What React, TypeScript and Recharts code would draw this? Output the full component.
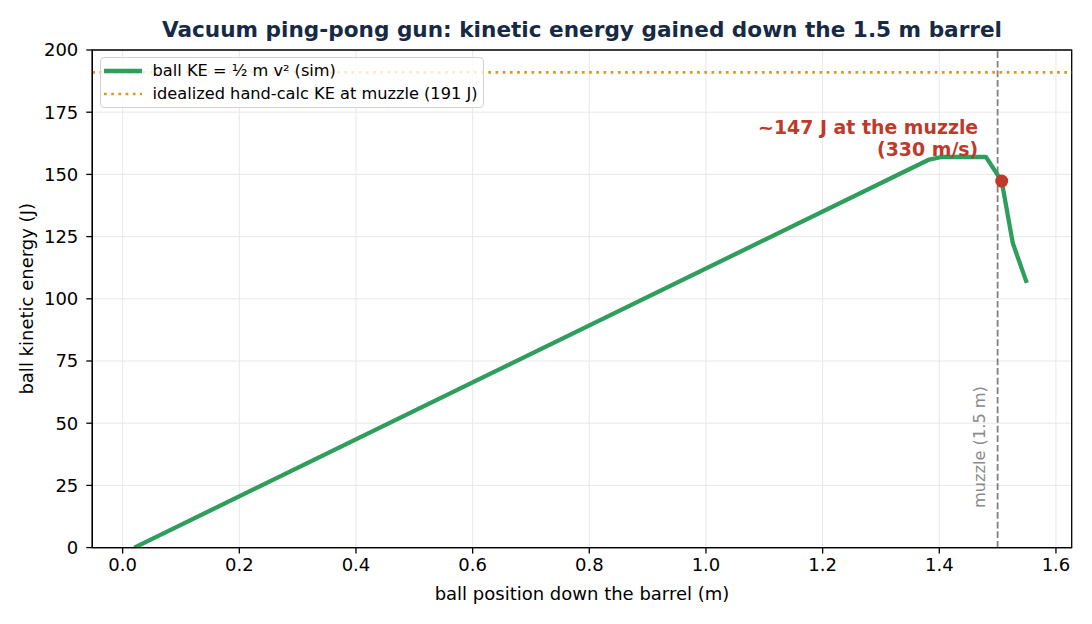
import React from "react";
import {
  LineChart,
  Line,
  XAxis,
  YAxis,
  CartesianGrid,
  ReferenceLine,
  ReferenceDot,
  ReferenceArea,
  Legend,
} from "recharts";

// ---- data ----
const positions = [0.02, 1.381, 1.404, 1.48, 1.507, 1.526, 1.55];
const kineticEnergy = [0, 155.8, 157.0, 157.0, 147.3, 122.4, 106.4];
const xTicks = [0, 0.2, 0.4, 0.6, 0.8, 1.0, 1.2, 1.4, 1.6];
const yTicks = [0, 25, 50, 75, 100, 125, 150, 175, 200];
const xDomain = [-0.052, 1.627];
const yDomain = [0, 200];
const handCalcKE = 191;
const muzzlePosition = 1.5;
const muzzlePointX = 1.507;
const muzzlePointKE = 147.3;
const annotationLines = ["~147 J at the muzzle", "(330 m/s)"];
const muzzleLabel = "muzzle (1.5 m)";
const titleText = "Vacuum ping-pong gun: kinetic energy gained down the 1.5 m barrel";
const xLabel = "ball position down the barrel (m)";
const yLabel = "ball kinetic energy (J)";
const simLegend = "ball KE = ½ m v² (sim)";
const handLegend = "idealized hand-calc KE at muzzle (191 J)";

const data = positions.map((x, i) => ({ x, ke: kineticEnergy[i] }));

const GREEN = "#2f9e5c";
const GOLD = "#d69a1e";
const RED = "#c0392b";
const GRAY = "#808080";
const FONT = "'DejaVu Sans', sans-serif";

const renderYLabel = (props: any) => {
  const vb = props.viewBox || {};
  const x = vb.x - 5.3;
  const y = vb.y + vb.height / 2;
  return (
    <text
      x={x}
      y={y}
      dy="0.35em"
      textAnchor="middle"
      fontSize={18}
      fill="#000"
      transform={`rotate(-90, ${x}, ${y})`}
    >
      {yLabel}
    </text>
  );
};

const renderXLabel = (props: any) => {
  const vb = props.viewBox || {};
  const x = vb.x + vb.width / 2;
  const y = vb.y + 52.4;
  return (
    <text x={x} y={y} textAnchor="middle" fontSize={18} fill="#000">
      {xLabel}
    </text>
  );
};

const renderMuzzleLabel = (props: any) => {
  const vb = props.viewBox || {};
  const x = vb.x - 18.6;
  const y = vb.y + vb.height - 39.6;
  return (
    <text
      x={x}
      y={y}
      dy="0.35em"
      textAnchor="start"
      fontSize={16.2}
      fill="#8a8a8a"
      transform={`rotate(-90, ${x}, ${y})`}
    >
      {muzzleLabel}
    </text>
  );
};

const renderAnnotation = (props: any) => {
  const vb = props.viewBox || {};
  const cx = vb.x + vb.width / 2;
  const cy = vb.y + vb.height / 2;
  return (
    <g>
      <text
        x={cx - 23.5}
        y={cy - 47}
        textAnchor="end"
        fontSize={18.9}
        fontWeight="bold"
        fill={RED}
      >
        {annotationLines[0]}
      </text>
      <text
        x={cx - 23.5}
        y={cy - 25.3}
        textAnchor="end"
        fontSize={18.9}
        fontWeight="bold"
        fill={RED}
      >
        {annotationLines[1]}
      </text>
    </g>
  );
};

const renderLegend = () => (
  <div
    style={{
      boxSizing: "border-box",
      width: 384,
      height: 51.3,
      padding: "2.6px 3px",
      border: "1px solid #d2d2d2",
      borderRadius: 4,
      background: "rgba(255,255,255,0.8)",
      fontFamily: FONT,
      fontSize: 16.2,
      color: "#000",
    }}
  >
    {[
      { label: simLegend, color: GREEN, dash: undefined, w: 4.3 },
      { label: handLegend, color: GOLD, dash: "2.7 4.5", w: 2.7 },
    ].map((e) => (
      <div
        key={e.label}
        style={{ display: "flex", alignItems: "center", height: 22.3, lineHeight: "22.3px" }}
      >
        <svg width={38} height={22} style={{ marginRight: 10.6, flex: "none" }}>
          <line
            x1={0}
            x2={38}
            y1={11}
            y2={11}
            stroke={e.color}
            strokeWidth={e.w}
            strokeDasharray={e.dash}
          />
        </svg>
        <span style={{ whiteSpace: "nowrap" }}>{e.label}</span>
      </div>
    ))}
  </div>
);

export default function App() {
  return (
    <div
      style={{
        position: "absolute",
        left: 0,
        top: 0,
        width: 1092,
        height: 624,
        background: "#fff",
        fontFamily: FONT,
      }}
    >
      <div
        style={{
          position: "absolute",
          left: 92.3,
          top: 16.5,
          width: 979.4,
          textAlign: "center",
          fontSize: 21.6,
          lineHeight: "26px",
          fontWeight: "bold",
          color: "#172a45",
          whiteSpace: "nowrap",
        }}
      >
        {titleText}
      </div>
      <LineChart
        width={1092}
        height={624}
        data={data}
        margin={{ top: 50, right: 20.3, bottom: 20.4, left: 32.3 }}
      >
        <CartesianGrid stroke="#e8e8e8" strokeWidth={1} />
        <XAxis
          type="number"
          dataKey="x"
          domain={xDomain}
          ticks={xTicks}
          allowDataOverflow
          height={56}
          tickSize={6}
          tickMargin={5}
          tickFormatter={(v: number) => v.toFixed(1)}
          tick={{ fontSize: 18, fill: "#000" }}
          axisLine={{ stroke: "#000", strokeWidth: 1.3 }}
          tickLine={{ stroke: "#000", strokeWidth: 1.3 }}
          label={renderXLabel}
        />
        <YAxis
          type="number"
          domain={yDomain}
          ticks={yTicks}
          allowDataOverflow
          width={60}
          tickSize={6}
          tickMargin={8}
          tick={{ fontSize: 18, fill: "#000" }}
          axisLine={{ stroke: "#000", strokeWidth: 1.3 }}
          tickLine={{ stroke: "#000", strokeWidth: 1.3 }}
          label={renderYLabel}
        />
        <ReferenceLine
          y={handCalcKE}
          stroke={GOLD}
          strokeWidth={2.7}
          strokeDasharray="2.7 4.5"
        />
        <ReferenceLine
          x={muzzlePosition}
          stroke={GRAY}
          strokeWidth={1.8}
          strokeDasharray="6.7 2.9"
          label={renderMuzzleLabel}
        />
        <Line
          type="linear"
          dataKey="ke"
          stroke={GREEN}
          strokeWidth={4.3}
          strokeLinejoin="round"
          dot={false}
          activeDot={false}
          isAnimationActive={false}
        />
        <ReferenceDot
          x={muzzlePointX}
          y={muzzlePointKE}
          r={6.5}
          fill={RED}
          stroke="none"
          label={renderAnnotation}
        />
        <ReferenceArea
          x1={xDomain[0]}
          x2={xDomain[1]}
          y1={yDomain[0]}
          y2={yDomain[1]}
          fill="none"
          stroke="#000"
          strokeWidth={1.3}
          fillOpacity={0}
        />
        <Legend
          layout="vertical"
          verticalAlign="middle"
          align="center"
          content={renderLegend}
          wrapperStyle={{ left: 100, top: 56.7, width: 384, height: 51.3 }}
        />
      </LineChart>
    </div>
  );
}
